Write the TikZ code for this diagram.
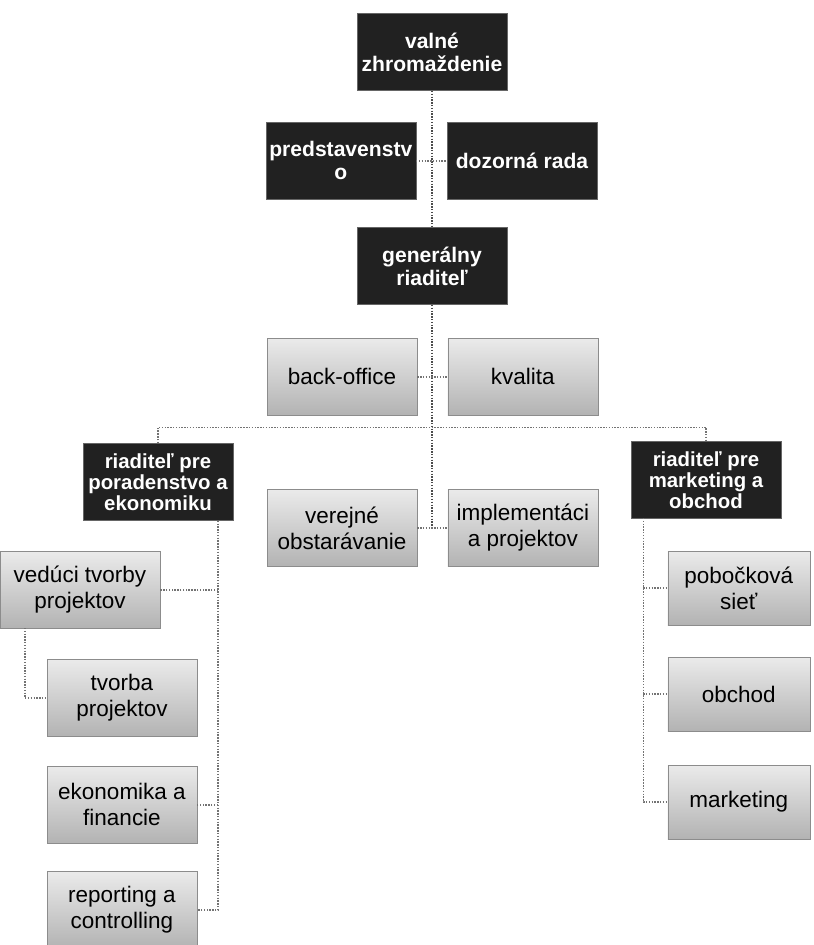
\documentclass[tikz,border=0pt]{standalone}
\usepackage{fontspec}
\setmainfont{Liberation Sans}
\usepackage{tikz}

\begin{document}
\begin{tikzpicture}[
		every node/.style={rectangle, align=center, inner sep=1pt},
		head/.style={fill=black!87, draw=black!60, text=white,
			font=\bfseries\fontsize{15}{16.5}\selectfont,
			minimum width=3.75cm, minimum height=1.93cm},
		unit/.style={top color=black!8, bottom color=black!30, draw=black!45,
			font=\fontsize{16}{18.5}\selectfont,
			minimum width=3.75cm, minimum height=1.93cm},
		link/.style={draw=black!55, densely dotted, line width=1pt}
	]
  \useasboundingbox (0cm, 0cm) rectangle (20.35cm, -23.625cm);
  \node (vz) [head] at (10.8cm, -1.3cm) {valné\\zhromaždenie};
  \node (pred) [head] at (8.52cm, -4.02cm) {predstavenstv\\o};
  \node (dozor) [head] at (13.05cm, -4.02cm) {dozorná rada};
  \node (gen) [head] at (10.8cm, -6.65cm) {generálny\\riaditeľ};
  \node (back) [unit] at (8.55cm, -9.42cm) {back-office};
  \node (kval) [unit] at (13.07cm, -9.42cm) {kvalita};
  \node (rpe) [head, font=\bfseries\fontsize{14.5}{15}\selectfont] at (3.95cm, -12.05cm) {riaditeľ pre\\poradenstvo a\\ekonomiku};
  \node (verej) [unit] at (8.55cm, -13.2cm) {verejné\\obstarávanie};
  \node (impl) [unit] at (13.07cm, -13.2cm) {implementáci\\a projektov};
  \node (rmo) [head, font=\bfseries\fontsize{14.5}{15}\selectfont] at (17.65cm, -12.0cm) {riaditeľ pre\\marketing a\\obchod};
  \node (ved) [unit, minimum width=4cm] at (2.0cm, -14.75cm) {vedúci tvorby\\projektov};
  \node (tvor) [unit] at (3.05cm, -17.45cm) {tvorba\\projektov};
  \node (ekon) [unit] at (3.05cm, -20.12cm) {ekonomika a\\financie};
  \node (rep) [unit] at (3.05cm, -22.75cm) {reporting a\\controlling};
  \node (pob) [unit, minimum width=3.55cm, minimum height=1.85cm] at (18.47cm, -14.7cm) {pobočková\\sieť};
  \node (obch) [unit, minimum width=3.55cm, minimum height=1.85cm] at (18.47cm, -17.35cm) {obchod};
  \node (mkt) [unit, minimum width=3.55cm, minimum height=1.85cm] at (18.47cm, -20.05cm) {marketing};
  \coordinate (bus) at (10.8cm, -10.68cm);
  \coordinate (rpe_s) at (5.45cm, -13.02cm);
  \coordinate (ved_s) at (0.62cm, -15.7cm);
  \coordinate (rmo_s) at (16.08cm, -12.95cm);
  % trunk
  \draw [link, draw=black!70] (vz) -- (gen);
  \draw [link] (pred) -- (dozor);
  \draw [link, draw=black!70] (gen.south) -- (gen |- verej);
  \draw [link] (back) -- (kval);
  \draw [link] (verej) -- (impl);
  \draw [link] (rpe.north) |- (bus) -| (rmo.north);
  % left branch
  \draw [link] (rpe_s) |- (rep.east);
  \draw [link] (rpe_s |- ved.east) -- (ved.east);
  \draw [link] (rpe_s |- ekon.east) -- (ekon.east);
  \draw [link] (ved_s) |- (tvor.west);
  % right branch
  \draw [link] (rmo_s) |- (mkt.west);
  \draw [link] (rmo_s |- pob.west) -- (pob.west);
  \draw [link] (rmo_s |- obch.west) -- (obch.west);
\end{tikzpicture}
\end{document}
